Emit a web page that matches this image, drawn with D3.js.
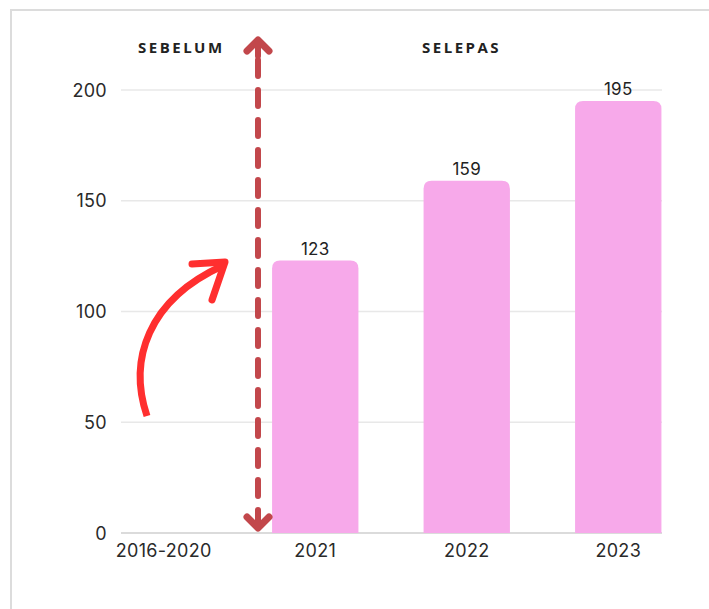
<!DOCTYPE html>
<html>
<head>
<meta charset="utf-8">
<script src="https://cdn.jsdelivr.net/npm/d3@7"></script>
<style>
html,body{margin:0;padding:0;background:#fff;}
svg{display:block;}
</style>
</head>
<body>
<svg id="chart" width="709" height="609"></svg>
<script>
const categories = ["2016-2020", "2021", "2022", "2023"];
const values = [null, 123, 159, 195];
const yTicks = [0, 50, 100, 150, 200];
const sectionLabels = ["SEBELUM", "SELEPAS"];

const svg = d3.select("#chart");
const font = "Inter, 'Noto Sans', sans-serif";

// frame
svg.append("path").attr("d", "M11,609 L11,10 L709,10")
  .attr("fill", "none").attr("stroke", "#dcdcdc").attr("stroke-width", 2);

const x = d3.scaleBand().domain(categories).range([88, 694]).paddingInner(0.43).paddingOuter(0.215);
const y = d3.scaleLinear().domain([0, 200]).range([533, 90]);
const gridX0 = 121, gridX1 = 662;

// gridlines
svg.append("g").selectAll("line").data(yTicks).join("line")
  .attr("x1", gridX0).attr("x2", gridX1)
  .attr("y1", d => y(d)).attr("y2", d => y(d))
  .attr("stroke", d => d === 0 ? "#cfcfcf" : "#e8e8e8").attr("stroke-width", 1.5);

// y labels
svg.append("g").selectAll("text").data(yTicks).join("text")
  .attr("x", 107).attr("y", d => y(d) + 6.5)
  .attr("text-anchor", "end").attr("font-family", font).attr("font-size", 18)
  .attr("letter-spacing", 0.3).attr("fill", "#2a2a2a").text(d => d);

// x labels
svg.append("g").selectAll("text").data(categories).join("text")
  .attr("x", d => x(d) + x.bandwidth() / 2).attr("y", 557)
  .attr("text-anchor", "middle").attr("font-family", font).attr("font-size", 18)
  .attr("letter-spacing", 0.3).attr("fill", "#2a2a2a").text(d => d);

// bars with rounded top
const data = categories.map((c, i) => ({c, v: values[i]})).filter(d => d.v != null);
const r = 8;
svg.append("g").selectAll("path").data(data).join("path")
  .attr("d", d => {
    const x0 = x(d.c), w = x.bandwidth(), yt = y(d.v), yb = y(0);
    return `M${x0},${yb} L${x0},${yt + r} Q${x0},${yt} ${x0 + r},${yt} L${x0 + w - r},${yt} Q${x0 + w},${yt} ${x0 + w},${yt + r} L${x0 + w},${yb} Z`;
  })
  .attr("fill", "#f7a9ea");

svg.append("g").selectAll("text").data(data).join("text")
  .attr("x", d => x(d.c) + x.bandwidth() / 2).attr("y", d => y(d.v) - 6)
  .attr("text-anchor", "middle").attr("font-family", font).attr("font-size", 17)
  .attr("letter-spacing", 0.3).attr("fill", "#222").text(d => d.v);

// section labels
svg.append("text").attr("x", 138).attr("y", 53).attr("font-family", "'Open Sans', sans-serif")
  .attr("font-weight", 700).attr("font-size", 15).attr("letter-spacing", 2.5).attr("fill", "#222")
  .text(sectionLabels[0]);
svg.append("text").attr("x", 422).attr("y", 53).attr("font-family", "'Open Sans', sans-serif")
  .attr("font-weight", 700).attr("font-size", 15).attr("letter-spacing", 2.5).attr("fill", "#222")
  .text(sectionLabels[1]);

// dashed divider with arrows
const dc = "#c2474b", dx = 258;
svg.append("line").attr("x1", dx).attr("x2", dx).attr("y1", 60).attr("y2", 522)
  .attr("stroke", dc).attr("stroke-width", 6).attr("stroke-linecap", "round")
  .attr("stroke-dasharray", "16,14");
svg.append("path").attr("d", `M${dx - 11},51 L${dx},40 L${dx + 11},51`)
  .attr("fill", "none").attr("stroke", dc).attr("stroke-width", 7)
  .attr("stroke-linecap", "round").attr("stroke-linejoin", "round");
svg.append("line").attr("x1", dx).attr("x2", dx).attr("y1", 42).attr("y2", 56)
  .attr("stroke", dc).attr("stroke-width", 6).attr("stroke-linecap", "round");
svg.append("path").attr("d", `M${dx - 11},517 L${dx},528 L${dx + 11},517`)
  .attr("fill", "none").attr("stroke", dc).attr("stroke-width", 7)
  .attr("stroke-linecap", "round").attr("stroke-linejoin", "round");
svg.append("line").attr("x1", dx).attr("x2", dx).attr("y1", 512).attr("y2", 527)
  .attr("stroke", dc).attr("stroke-width", 6).attr("stroke-linecap", "round");

// red curved arrow
const rc = "#ff2f2f";
svg.append("path").attr("d", "M147,416 C128,360 148,300 222,266")
  .attr("fill", "none").attr("stroke", rc).attr("stroke-width", 7).attr("stroke-linecap", "butt");
svg.append("path").attr("d", "M192,264 L225,262 L212,300")
  .attr("fill", "none").attr("stroke", rc).attr("stroke-width", 7)
  .attr("stroke-linecap", "round").attr("stroke-linejoin", "round");
</script>
</body>
</html>
